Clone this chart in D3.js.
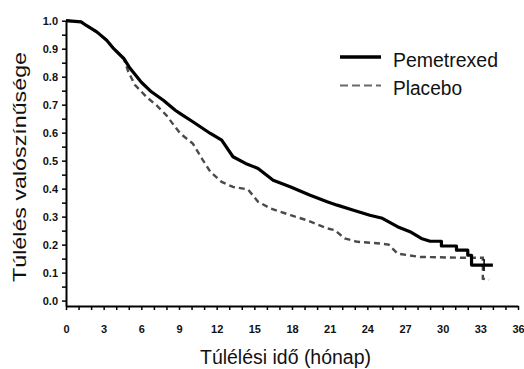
<!DOCTYPE html>
<html lang="hu">
<head>
  <meta charset="UTF-8">
  <script src="https://d3js.org/d3.v7.min.js"></script>
  <title>Túlélés</title>
  <style>
    body { margin: 0; background: #fff; font-family: "Liberation Sans", Arial, sans-serif; }
    .tick text { font-weight: bold; font-size: 11px; fill: #111; }
  </style>
</head>
<body>
<script>
  // Kaplan-Meier curves: [month, survival probability]
  const pemetrexed = [
    [0, 1.0], [1.2, 0.996], [1.65, 0.982], [2.45, 0.96], [3.24, 0.93], [3.8, 0.90],
    [4.6, 0.865], [5.1, 0.83], [6.0, 0.78], [6.8, 0.746], [7.75, 0.716], [8.7, 0.68],
    [9.1, 0.668], [10.1, 0.639], [11.5, 0.597], [12.4, 0.573], [13.3, 0.514], [14.3, 0.49],
    [15.3, 0.472], [16.5, 0.43], [17.9, 0.406], [19.4, 0.377], [20.8, 0.353], [21.6, 0.341],
    [22.9, 0.323], [24.2, 0.305], [25.2, 0.294], [26.4, 0.264], [27.4, 0.246], [28.3, 0.222],
    [29.0, 0.212], [29.9, 0.212], [29.9, 0.195], [31.1, 0.195], [31.1, 0.18], [32.0, 0.18],
    [32.0, 0.162], [32.3, 0.162], [32.3, 0.127], [34.0, 0.127]
  ];
  const placebo = [
    [0, 1.0], [1.2, 0.996], [1.65, 0.982], [2.45, 0.96], [3.24, 0.93], [3.8, 0.90],
    [4.6, 0.865], [4.97, 0.817], [5.5, 0.77], [6.4, 0.728], [7.2, 0.698], [8.0, 0.662],
    [8.7, 0.62], [9.1, 0.597], [10.1, 0.561], [10.9, 0.502], [11.5, 0.46], [12.4, 0.424],
    [13.3, 0.406], [14.5, 0.397], [15.3, 0.353], [16.3, 0.329], [17.9, 0.305], [19.2, 0.287],
    [20.8, 0.258], [21.4, 0.252], [22.2, 0.222], [23.2, 0.21], [25.0, 0.204], [25.7, 0.20],
    [26.4, 0.168], [28.2, 0.156], [31.7, 0.153], [33.2, 0.153], [33.2, 0.078], [33.7, 0.075]
  ];
  const censorPem = [[33.3, 0.127]];

  const xTicks = d3.range(0, 37, 1);       // labelled every 3 months
  const yTicks = d3.range(0, 21).map(i => i * 0.05);  // labelled every 0.1
  const seriesNames = ["Pemetrexed", "Placebo"];

  const width = 524, height = 369;
  const svg = d3.select("body").append("svg")
    .attr("width", width)
    .attr("height", height);

  const x = d3.scaleLinear().domain([0, 36]).range([66, 518]);
  const y = d3.scaleLinear().domain([-0.0193, 1]).range([306, 20.7]);

  // x axis
  const xAxis = svg.append("g")
    .attr("transform", "translate(0,306)")
    .call(d3.axisBottom(x)
      .tickValues(xTicks)
      .tickSize(4)
      .tickSizeOuter(0)
      .tickPadding(15)
      .tickFormat(d => d % 3 === 0 ? d : ""));
  xAxis.select(".domain").attr("stroke-width", 2);
  xAxis.selectAll(".tick line").attr("stroke-width", 1.5);

  // y axis
  const yAxis = svg.append("g")
    .attr("transform", "translate(66,0)")
    .call(d3.axisLeft(y)
      .tickValues(yTicks)
      .tickSize(4)
      .tickSizeOuter(0)
      .tickPadding(4)
      .tickFormat((d, i) => i % 2 === 0 ? d.toFixed(1) : ""));
  yAxis.select(".domain").attr("stroke-width", 2);
  yAxis.selectAll(".tick line").attr("stroke-width", 1.5);

  const line = d3.line()
    .x(d => x(d[0]))
    .y(d => y(d[1]));

  svg.append("path")
    .datum(placebo)
    .attr("fill", "none")
    .attr("stroke", "#4a4a4a")
    .attr("stroke-width", 2.4)
    .attr("stroke-dasharray", "6,4")
    .attr("d", line);

  svg.append("path")
    .datum(pemetrexed)
    .attr("fill", "none")
    .attr("stroke", "#000")
    .attr("stroke-width", 3.2)
    .attr("stroke-linejoin", "round")
    .attr("d", line);

  // censor marks
  svg.selectAll(".censor")
    .data(censorPem)
    .enter().append("line")
    .attr("class", "censor")
    .attr("x1", d => x(d[0]))
    .attr("x2", d => x(d[0]))
    .attr("y1", d => y(d[1]) - 6)
    .attr("y2", d => y(d[1]) + 6)
    .attr("stroke", "#000")
    .attr("stroke-width", 1.5);

  // axis titles
  svg.append("text")
    .attr("x", 200)
    .attr("y", 364)
    .attr("font-size", 20)
    .attr("textLength", 171)
    .attr("lengthAdjust", "spacingAndGlyphs")
    .attr("fill", "#111")
    .text("Túlélési idő (hónap)");

  svg.append("text")
    .attr("transform", "translate(26,282) rotate(-90)")
    .attr("font-size", 19)
    .attr("textLength", 230)
    .attr("lengthAdjust", "spacingAndGlyphs")
    .attr("fill", "#111")
    .text("Túlélés valószínűsége");

  // legend
  const legend = svg.append("g");
  const legendY = [57, 85.5];
  const legendLen = [105, 69];
  seriesNames.forEach((name, i) => {
    legend.append("line")
      .attr("x1", 340).attr("x2", 381)
      .attr("y1", legendY[i]).attr("y2", legendY[i])
      .attr("stroke", i === 0 ? "#000" : "#6a6a6a")
      .attr("stroke-width", i === 0 ? 3.5 : 2.2)
      .attr("stroke-dasharray", i === 0 ? null : "8,4");
    legend.append("text")
      .attr("x", 393)
      .attr("y", legendY[i] + 9.5)
      .attr("font-size", 20)
      .attr("textLength", legendLen[i])
      .attr("lengthAdjust", "spacingAndGlyphs")
      .attr("fill", "#111")
      .text(name);
  });
</script>
</body>
</html>
